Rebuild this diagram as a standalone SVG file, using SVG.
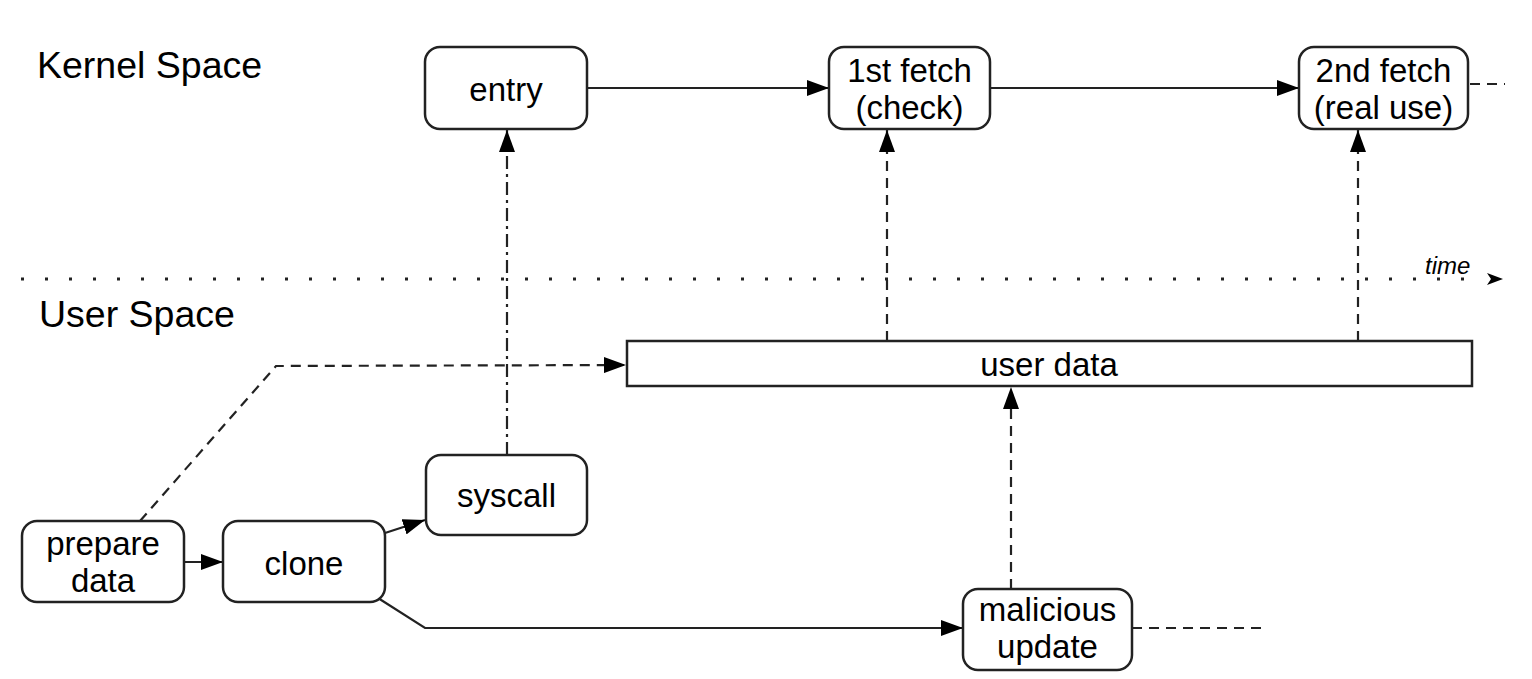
<svg xmlns="http://www.w3.org/2000/svg" width="1532" height="679" viewBox="0 0 1532 679">
<style>
.node{fill:#fff;stroke:#222;stroke-width:2.5}
.t{font-family:"Liberation Sans",Arial,sans-serif;font-size:33px;fill:#000;text-anchor:middle}
.lbl{font-family:"Liberation Sans",Arial,sans-serif;font-size:37.5px;fill:#000}
.c{fill:none;stroke:#222;stroke-width:2.2}
.dash{stroke-dasharray:10 7}
.dd{stroke-dasharray:13 5 3 5}
.dot{stroke-dasharray:3 21;stroke-width:3}
</style>
<defs>
<marker id="ah" markerUnits="userSpaceOnUse" markerWidth="22" markerHeight="16" refX="22" refY="8" orient="auto">
<path d="M0,0 L22,8 L0,16 z" fill="#000"/>
</marker>
</defs>
<rect width="1532" height="679" fill="#fff"/>
<text class="lbl" x="37" y="78">Kernel Space</text>
<text class="lbl" x="39" y="327">User Space</text>
<g id="timeline">
<line class="c dot" x1="21" y1="279" x2="1480" y2="279"/>
<path d="M1487,273 L1503,279 L1487,285 L1491,279 z" fill="#000"/>
<text x="1425" y="274" font-family="Liberation Sans, Arial, sans-serif" font-size="24" font-style="italic">time</text>
</g>
<g id="connectors">
<line class="c" x1="587" y1="88" x2="829" y2="88" marker-end="url(#ah)"/>
<line class="c" x1="990" y1="88" x2="1299" y2="88" marker-end="url(#ah)"/>
<line class="c dash" x1="1470" y1="84" x2="1505" y2="84"/>
<line class="c dash" x1="887" y1="341" x2="887" y2="130" marker-end="url(#ah)"/>
<line class="c dash" x1="1358" y1="341" x2="1358" y2="130" marker-end="url(#ah)"/>
<line class="c dd" x1="507" y1="455" x2="507" y2="130" marker-end="url(#ah)"/>
<polyline class="c dash" points="140,521 276,366 626,365" marker-end="url(#ah)"/>
<line class="c dash" x1="1011" y1="589" x2="1011" y2="387" marker-end="url(#ah)"/>
<line class="c" x1="184" y1="562" x2="223" y2="562" marker-end="url(#ah)"/>
<line class="c" x1="385" y1="533" x2="425" y2="520" marker-end="url(#ah)"/>
<polyline class="c" points="378,598 425,628 963,628" marker-end="url(#ah)"/>
<line class="c dash" x1="1132" y1="628" x2="1268" y2="628"/>
</g>
<g id="entry"><rect class="node" x="425" y="47" width="162" height="82" rx="15"/><text class="t" x="506" y="101">entry</text></g>
<g id="fetch1"><rect class="node" x="829" y="47" width="161" height="82" rx="15"/><text class="t" x="909.5" y="82">1st fetch</text><text class="t" x="909.5" y="119">(check)</text></g>
<g id="fetch2"><rect class="node" x="1299" y="47" width="169" height="82" rx="15"/><text class="t" x="1383.5" y="82">2nd fetch</text><text class="t" x="1383.5" y="119">(real use)</text></g>
<g id="userdata"><rect class="node" x="627" y="341" width="845" height="45"/><text class="t" x="1049" y="376">user data</text></g>
<g id="syscall"><rect class="node" x="426" y="455" width="161" height="80" rx="15"/><text class="t" x="506.5" y="507">syscall</text></g>
<g id="prepare"><rect class="node" x="22" y="521" width="162" height="81" rx="15"/><text class="t" x="103" y="555">prepare</text><text class="t" x="103" y="592">data</text></g>
<g id="clone"><rect class="node" x="223" y="521" width="162" height="81" rx="15"/><text class="t" x="304" y="575">clone</text></g>
<g id="malicious"><rect class="node" x="963" y="589" width="169" height="81" rx="15"/><text class="t" x="1047.5" y="621">malicious</text><text class="t" x="1047.5" y="658">update</text></g>
</svg>
